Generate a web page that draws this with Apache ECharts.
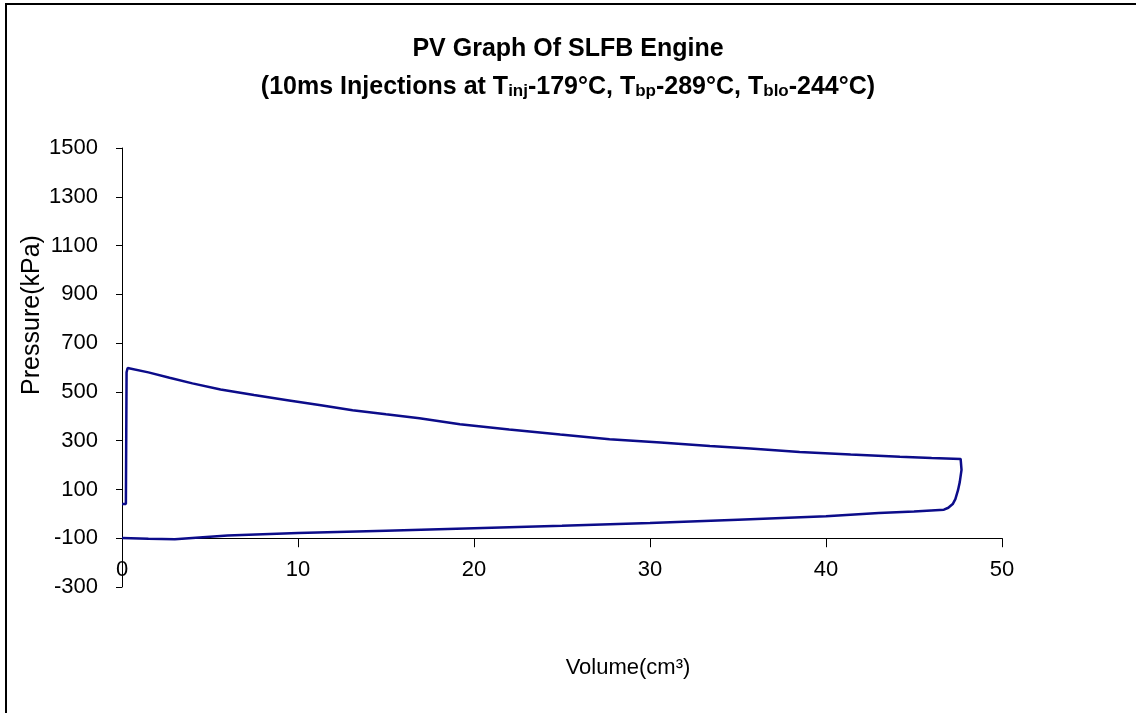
<!DOCTYPE html>
<html>
<head>
<meta charset="utf-8">
<title>PV Graph Of SLFB Engine</title>
<script src="https://cdn.jsdelivr.net/npm/echarts@6/dist/echarts.min.js"></script>
<style>
    html, body {
        margin: 0;
        padding: 0;
        background: #ffffff;
    }
    #chart {
        width: 1136px;
        height: 713px;
    }
</style>
</head>
<body>
<div id="chart"></div>
<script>
const volume = [
    0, 0.22, 0.26, 0.32, 0.4, 1.5, 2.7, 4, 5.6, 7.5, 9.4, 11.3, 13.1, 15, 16.9,
    19.2, 22, 24.9, 27.7, 30.6, 33.4, 35.7, 38.5, 41.4, 44.2, 46, 47.65, 47.72,
    47.7, 47.6, 47.5, 47.35, 47.2, 46.95, 46.7, 45, 43, 40, 35, 30, 25, 20, 15,
    10, 6, 3, 1.5, 0
]
const pressure = [
    40, 40, 580, 598, 602, 580, 558, 535, 510, 487, 466, 445, 425, 408, 392,
    367, 346, 325, 306, 292, 278, 268, 254, 243, 234, 229, 225, 222,
    180, 130, 97, 60, 40, 25, 17, 10, 3, -10, -24, -38, -49, -59, -69,
    -79, -89, -104, -102, -99
]
const xTicks = [0, 10, 20, 30, 40, 50]
const yTicks = [-300, -100, 100, 300, 500, 700, 900, 1100, 1300, 1500]

const chartDom = document.getElementById('chart')
const myChart = echarts.init(chartDom, null, { renderer: 'canvas' })

const FONT = '"Liberation Sans", Arial, sans-serif'
const LINE_COLOR = '#0c0c8a'

// grid: y from -300 (bottom) to 1500 (top)
const gridTop = 148
const gridBottom = 126
const gridHeight = 713 - gridTop - gridBottom
const yMin = yTicks[0]
const yMax = yTicks[yTicks.length - 1]
// x axis crosses the y axis at -100
const xAxisOffset = -gridHeight * (yTicks[1] - yMin) / (yMax - yMin)

const seriesData = volume.map((v, i) => [v, pressure[i]])

const option = {
    animation: false,
    backgroundColor: '#ffffff',
    title: [
        {
            text: 'PV Graph Of SLFB Engine',
            left: 'center',
            top: 32,
            textStyle: { fontFamily: FONT, fontSize: 25, fontWeight: 'bold', color: '#000' }
        },
        {
            text: '{m|(10ms Injections at T}{s|inj}{m|-179°C, T}{s|bp}{m|-289°C, T}{s|blo}{m|-244°C)}',
            left: 'center',
            top: 67,
            textStyle: {
                rich: {
                    m: { fontFamily: FONT, fontSize: 25, fontWeight: 'bold', color: '#000', lineHeight: 28, verticalAlign: 'bottom' },
                    s: { fontFamily: FONT, fontSize: 17, fontWeight: 'bold', color: '#000', lineHeight: 22, verticalAlign: 'bottom' }
                }
            }
        }
    ],
    grid: {
        left: 122,
        right: 134,
        top: gridTop,
        bottom: gridBottom
    },
    xAxis: {
        type: 'value',
        min: xTicks[0],
        max: xTicks[xTicks.length - 1],
        interval: 10,
        offset: xAxisOffset,
        axisLine: { show: true, onZero: false, lineStyle: { color: '#000', width: 1 } },
        axisTick: { show: true, inside: false, length: 9, lineStyle: { color: '#000' } },
        axisLabel: { fontFamily: FONT, fontSize: 22, color: '#000', margin: 21 },
        splitLine: { show: false }
    },
    yAxis: {
        type: 'value',
        min: yMin,
        max: yMax,
        interval: 200,
        axisLine: { show: true, lineStyle: { color: '#000', width: 1 } },
        axisTick: { show: true, inside: false, length: 6, lineStyle: { color: '#000' } },
        axisLabel: {
            fontFamily: FONT,
            fontSize: 22,
            color: '#000',
            margin: 24,
            formatter: (v) => String(v)
        },
        splitLine: { show: false }
    },
    graphic: [
        {
            type: 'rect',
            shape: { x: 6, y: 4, width: 1200, height: 800 },
            style: { fill: 'none', stroke: '#000', lineWidth: 2 },
            silent: true
        },
        {
            type: 'text',
            x: 32,
            y: 315,
            rotation: Math.PI / 2,
            style: {
                text: 'Pressure(kPa)',
                fontFamily: FONT,
                fontSize: 25,
                fill: '#000',
                align: 'center',
                verticalAlign: 'middle'
            }
        },
        {
            type: 'text',
            x: 628,
            y: 668,
            style: {
                text: 'Volume(cm³)',
                fontFamily: FONT,
                fontSize: 22,
                fill: '#000',
                align: 'center',
                verticalAlign: 'middle'
            }
        }
    ],
    series: [
        {
            type: 'line',
            data: seriesData,
            showSymbol: false,
            smooth: false,
            clip: false,
            lineStyle: { color: LINE_COLOR, width: 2.5 }
        }
    ]
}

option && myChart.setOption(option)
</script>
</body>
</html>
